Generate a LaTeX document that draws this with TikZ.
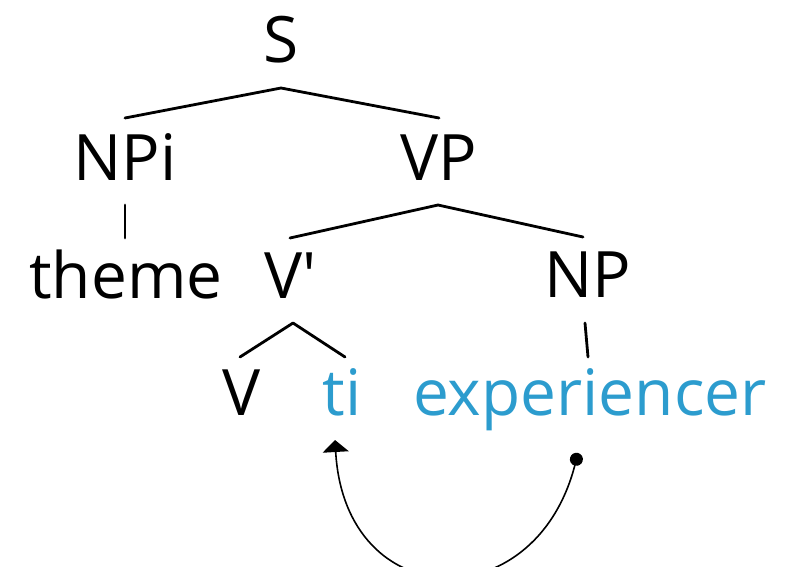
\documentclass[tikz,border=0pt]{standalone}
\usepackage{fontspec}
\setmainfont{Open Sans}[Ligatures=TeXOff]
\usetikzlibrary{arrows.meta}
\definecolor{traceblue}{RGB}{44,156,206}
\tikzset{
  lbl/.style={anchor=base, inner sep=0pt, font=\fontsize{64}{70}\selectfont},
  blue lbl/.style={lbl, text=traceblue},
  branch/.style={line width=2.8pt, line cap=round, line join=round},
  movement/.style={line width=1.6pt, arrows={Circle[length=13pt,width=13pt]-Triangle[width=26pt,length=12pt]}}
}
\begin{document}
\begin{tikzpicture}[x=1pt, y=-1pt]
  \useasboundingbox (0,0) rectangle (791,566);
  % labels, placed on their baselines
  \node[lbl] (S) at (281,62) {S};
  \node[lbl] (NPi) at (125,180) {NPi};
  \node[lbl] (VP) at (439,180) {VP};
  \node[lbl] (theme) at (126,298) {theme};
  \node[lbl] (Vbar) at (291,298) {V'};
  \node[lbl] (NP) at (588,297) {NP};
  \node[lbl] (V) at (242,415) {V};
  \node[blue lbl] (ti) at (342,415) {ti};
  \node[blue lbl] (exp) at (590,415) {experiencer};
  % branches
  \draw[branch] ([yshift=62pt]NPi.base) -- ([yshift=-26pt]S.base) -- ([yshift=62pt]VP.base);
  \draw[branch] ([yshift=-25pt]NPi.base) -- ([yshift=60pt]theme.base -| NPi.base);
  \draw[branch] ([yshift=60pt,xshift=-1pt]Vbar.base) -- ([yshift=-25pt,xshift=-1pt]VP.base) -- ([yshift=60pt,xshift=-5pt]NP.base);
  \draw[branch] ([yshift=58pt,xshift=-2pt]V.base) -- ([yshift=-25pt,xshift=2pt]Vbar.base) -- ([yshift=58pt,xshift=3pt]ti.base);
  \draw[branch] ([yshift=-26pt,xshift=-3pt]NP.base) -- ([yshift=58pt,xshift=-2pt]exp.base);
  % movement arc from the experiencer to its trace
  \draw[movement] ([yshift=-38pt,xshift=-12pt]exp.base) .. controls (535,620) and (345,615) .. ([yshift=-25pt,xshift=-7pt]ti.base);
\end{tikzpicture}
\end{document}
